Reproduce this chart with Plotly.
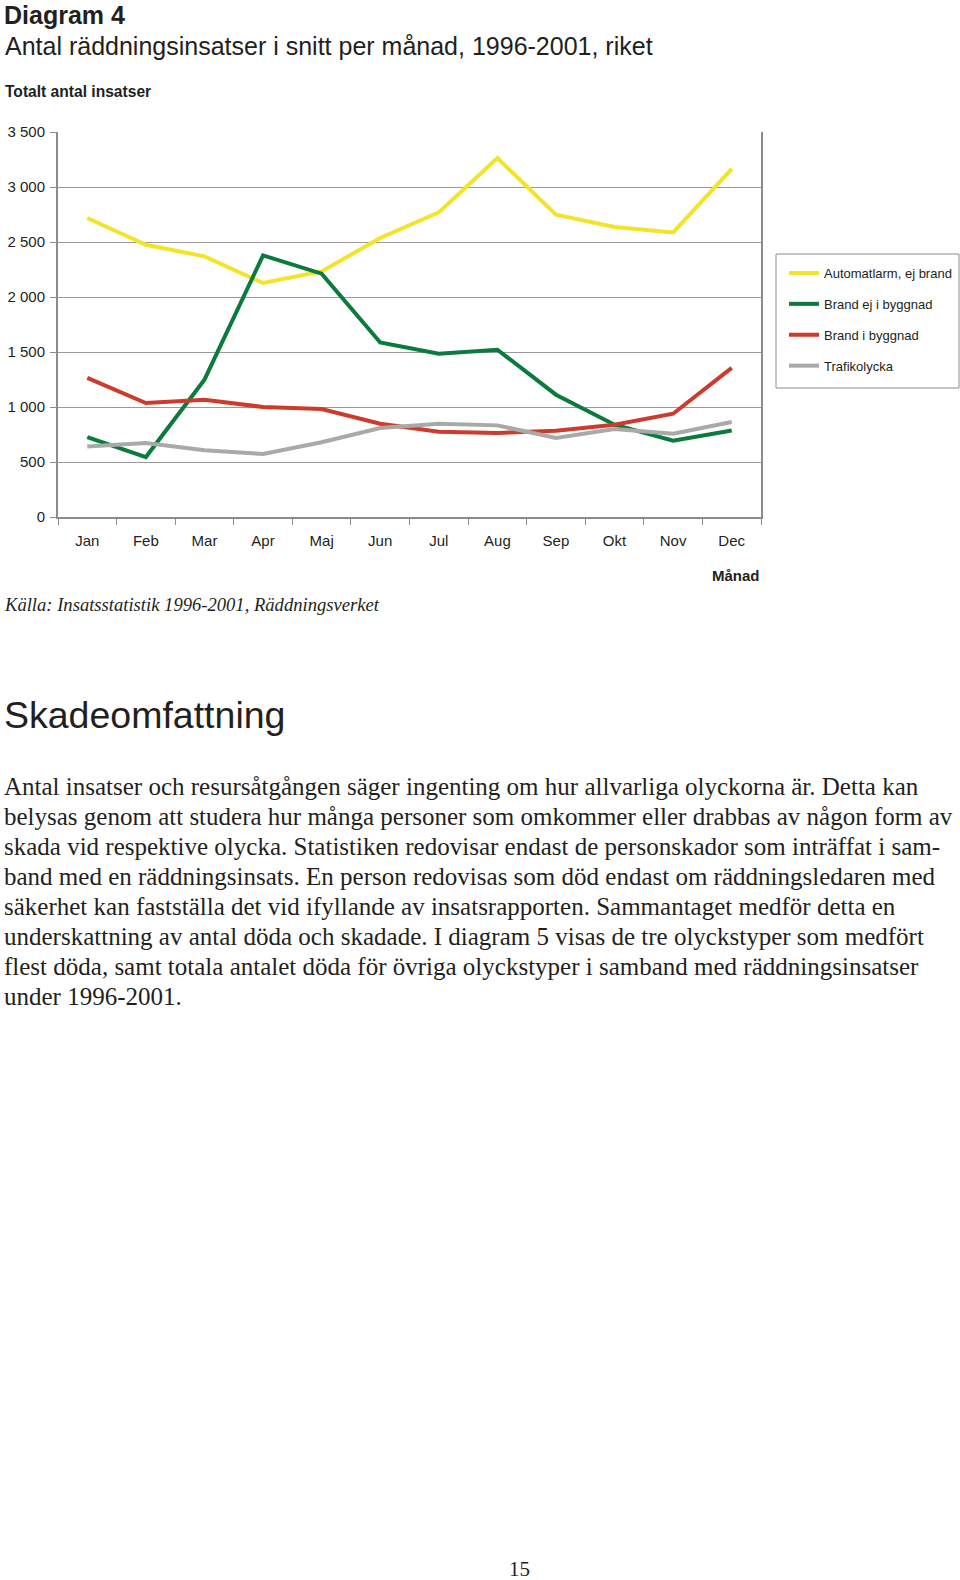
import plotly.graph_objects as go

months = ["Jan", "Feb", "Mar", "Apr", "Maj", "Jun", "Jul", "Aug", "Sep", "Okt", "Nov", "Dec"]
automatlarm = [2718, 2475, 2369, 2127, 2233, 2536, 2769, 3264, 2748, 2636, 2587, 3164]
brand_ej_byggnad = [727, 545, 1248, 2378, 2212, 1587, 1485, 1521, 1112, 839, 694, 787]
brand_byggnad = [1264, 1036, 1066, 1000, 982, 848, 775, 764, 785, 839, 939, 1355]
trafikolycka = [642, 673, 606, 573, 679, 809, 848, 833, 718, 800, 757, 864]

series_names = ["Automatlarm, ej brand", "Brand ej i byggnad", "Brand i byggnad", "Trafikolycka"]
series_values = [automatlarm, brand_ej_byggnad, brand_byggnad, trafikolycka]
series_colors = ["#F3E42A", "#0B7A3D", "#CC3B2B", "#A9A9A9"]

y_ticks = [0, 500, 1000, 1500, 2000, 2500, 3000, 3500]
y_ticktext = ["0", "500", "1 000", "1 500", "2 000", "2 500", "3 000", "3 500"]

paragraph = [
    "Antal insatser och resursåtgången säger ingenting om hur allvarliga olyckorna är. Detta kan",
    "belysas genom att studera hur många personer som omkommer eller drabbas av någon form av",
    "skada vid respektive olycka. Statistiken redovisar endast de personskador som inträffat i sam-",
    "band med en räddningsinsats. En person redovisas som död endast om räddningsledaren med",
    "säkerhet kan fastställa det vid ifyllande av insatsrapporten. Sammantaget medför detta en",
    "underskattning av antal döda och skadade. I diagram 5 visas de tre olyckstyper som medfört",
    "flest döda, samt totala antalet döda för övriga olyckstyper i samband med räddningsinsatser",
    "under 1996-2001.",
]

W, H = 960, 1580
L, R, T, B = 58, 761, 132, 517
SANS = "Liberation Sans, Arial, Helvetica, sans-serif"
SERIF = "Liberation Serif, Times New Roman, serif"
INK = "#231f20"
GRID = "#8c8c8c"


def px(x):
    return (x - L) / (R - L)


def py(y):
    return (B - y) / (B - T)


fig = go.Figure()
for name, vals, col in zip(series_names, series_values, series_colors):
    fig.add_trace(go.Scatter(
        x=months, y=vals, mode="lines", name=name,
        line=dict(color=col, width=4), legendgroup=name,
    ))

annotations = [
    dict(text="<b>Diagram 4</b>", x=px(3), y=py(15), borderpad=0, font=dict(size=25, family=SANS, color=INK)),
    dict(text="Antal räddningsinsatser i snitt per månad, 1996-2001, riket", x=px(3), y=py(46),
         font=dict(size=25, family=SANS, color=INK)),
    dict(text="<b>Totalt antal insatser</b>", x=px(3), y=py(91), font=dict(size=15.6, family=SANS, color=INK)),
    dict(text="<i>Källa: Insatsstatistik 1996-2001, Räddningsverket</i>", x=px(2), y=py(604),
         font=dict(size=18.6, family=SERIF, color=INK)),
    dict(text="Skadeomfattning", x=px(2), y=py(715), font=dict(size=37.5, family=SANS, color=INK)),
]
for a in annotations:
    a.update(xref="paper", yref="paper", xanchor="left", yanchor="middle", showarrow=False)

annotations.append(dict(text="<b>Månad</b>", x=px(762), y=py(575), xref="paper", yref="paper",
                        xanchor="right", yanchor="middle", showarrow=False,
                        font=dict(size=15, family=SANS, color=INK)))

line_y = [786, 816, 846, 876, 906.5, 936.5, 967, 996.5]
for txt, yy in zip(paragraph, line_y):
    annotations.append(dict(text=txt, x=px(2), y=py(yy), xref="paper", yref="paper",
                            xanchor="left", yanchor="middle", showarrow=False,
                            font=dict(size=25, family=SERIF, color=INK)))

annotations.append(dict(text="15", x=px(519), y=py(1569), xref="paper", yref="paper",
                        xanchor="center", yanchor="middle", showarrow=False,
                        font=dict(size=21, family=SERIF, color=INK)))

# legend frame
shapes = [dict(type="rect", xref="paper", yref="paper",
               x0=px(776), x1=px(959), y0=py(388), y1=py(254),
               line=dict(color=GRID, width=1), fillcolor="white", layer="below")]

fig.update_layout(
    width=W, height=H,
    margin=dict(l=L, r=W - R, t=T, b=H - B, pad=0, autoexpand=False),
    paper_bgcolor="white", plot_bgcolor="white",
    font=dict(family=SANS, color=INK, size=15),
    showlegend=True,
    legend=dict(
        x=px(784), y=py(258), xanchor="left", yanchor="top",
        borderwidth=0, bgcolor="rgba(0,0,0,0)",
        font=dict(size=13, family=SANS, color=INK),
        tracegroupgap=11, itemwidth=30,
    ),
    annotations=annotations,
    shapes=shapes,
    xaxis=dict(
        type="category", range=[-0.5, 11.5], tickson="boundaries",
        ticks="outside", ticklen=6, tickcolor=GRID, tickwidth=1,
        showline=True, linecolor=GRID, linewidth=2,
        showgrid=False, zeroline=False, automargin=False,
        tickfont=dict(size=15, family=SANS, color=INK), ticklabelstandoff=9,
    ),
    yaxis=dict(
        range=[0, 3500], tickvals=y_ticks, ticktext=y_ticktext,
        ticks="outside", ticklen=6, tickcolor=GRID, tickwidth=1,
        showline=True, linecolor=GRID, linewidth=2, mirror=True,
        showgrid=True, gridcolor="#9a9a9a", gridwidth=1, zeroline=False,
        automargin=False,
        tickfont=dict(size=15, family=SANS, color=INK), ticklabelstandoff=2,
    ),
)

fig.write_html("out.html", config={"displayModeBar": False},
               post_script="document.body.style.margin='0px';")
